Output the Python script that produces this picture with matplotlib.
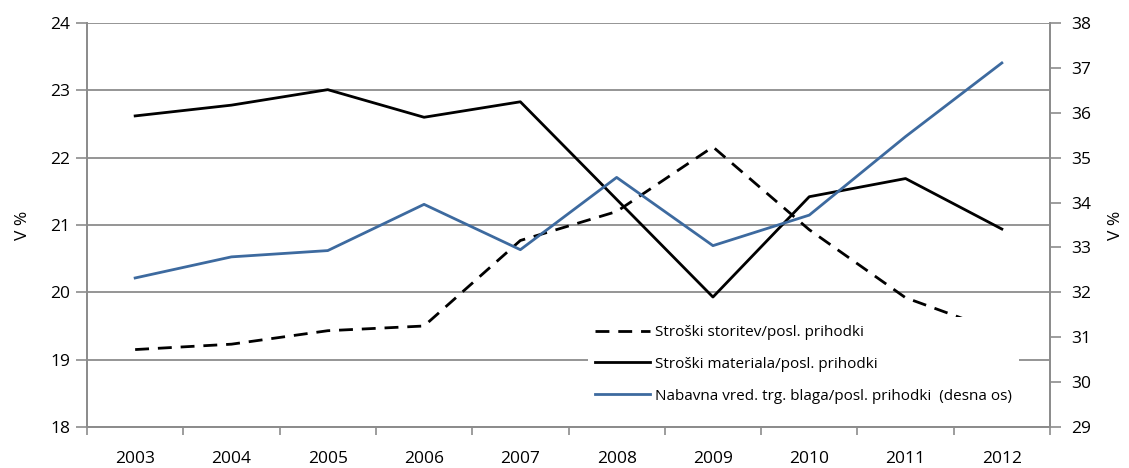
import matplotlib.pyplot as plt
import numpy as np

plt.rcParams['font.family'] = ['Open Sans', 'DejaVu Sans']

years = ['2003', '2004', '2005', '2006', '2007', '2008', '2009', '2010', '2011', '2012']
storitve = [19.15, 19.23, 19.43, 19.50, 20.77, 21.20, 22.16, 20.93, 19.92, 19.40]
material = [22.62, 22.78, 23.01, 22.60, 22.83, 21.38, 19.93, 21.42, 21.69, 20.94]
blago = [32.32, 32.79, 32.93, 33.96, 32.95, 34.56, 33.04, 33.72, 35.47, 37.11]

labels = ['Stroški storitev/posl. prihodki',
          'Stroški materiala/posl. prihodki',
          'Nabavna vred. trg. blaga/posl. prihodki  (desna os)']

gray = '#8c8c8c'
blue = '#3d6a9f'

fig = plt.figure(figsize=(11.29, 4.68), dpi=100)
ax = fig.add_axes([87/1129, 1-427/468, (1050-87)/1129, (427-23)/468])
ax2 = ax.twinx()

x = np.arange(len(years))
l1, = ax.plot(x, storitve, color='black', lw=2.0, dashes=(5, 3.2), label=labels[0])
l2, = ax.plot(x, material, color='black', lw=2.0, label=labels[1])
l3, = ax2.plot(x, blago, color=blue, lw=2.0, label=labels[2])

ax.set_xlim(-0.5, 9.5)
ax.set_ylim(18, 24)
ax.set_yticks(range(18, 25))
ax2.set_ylim(29, 38)
ax2.set_yticks(range(29, 39))

# ticks between categories, labels at category centres
ax.set_xticks(np.arange(-0.5, 10, 1))
ax.set_xticklabels([])
ax.set_xticks(x, minor=True)
ax.set_xticklabels(years, minor=True)
ax.tick_params(axis='x', which='major', direction='out', length=6, color=gray, width=1.2)
ax.tick_params(axis='x', which='minor', length=0, pad=17, labelsize=12.5)
ax.tick_params(axis='y', direction='out', length=8, color=gray, width=1.2, pad=4, labelsize=12.5)
ax2.tick_params(axis='y', direction='out', length=8, color=gray, width=1.2, pad=7, labelsize=12.5)

ax.grid(axis='y', color=gray, lw=1.3)
ax.set_axisbelow(True)
for a in (ax, ax2):
    a.spines['top'].set_visible(False)
    for s in ('left', 'right', 'bottom'):
        a.spines[s].set_color(gray)
        a.spines[s].set_linewidth(1.3)

ax.set_ylabel('V %', fontsize=12.5, labelpad=14)
ax2.set_ylabel('V %', fontsize=12.5, labelpad=12)

leg = ax2.legend(handles=[l1, l2, l3], loc='lower left', bbox_to_anchor=(0.512, 0.02),
                 frameon=True, fontsize=11, handlelength=3.6, handletextpad=0.3,
                 labelspacing=1.1, borderpad=0.5, fancybox=False)
leg.get_frame().set_edgecolor('none')
leg.get_frame().set_facecolor('white')
leg.get_frame().set_alpha(1)

fig.savefig('out.png', dpi=100)
